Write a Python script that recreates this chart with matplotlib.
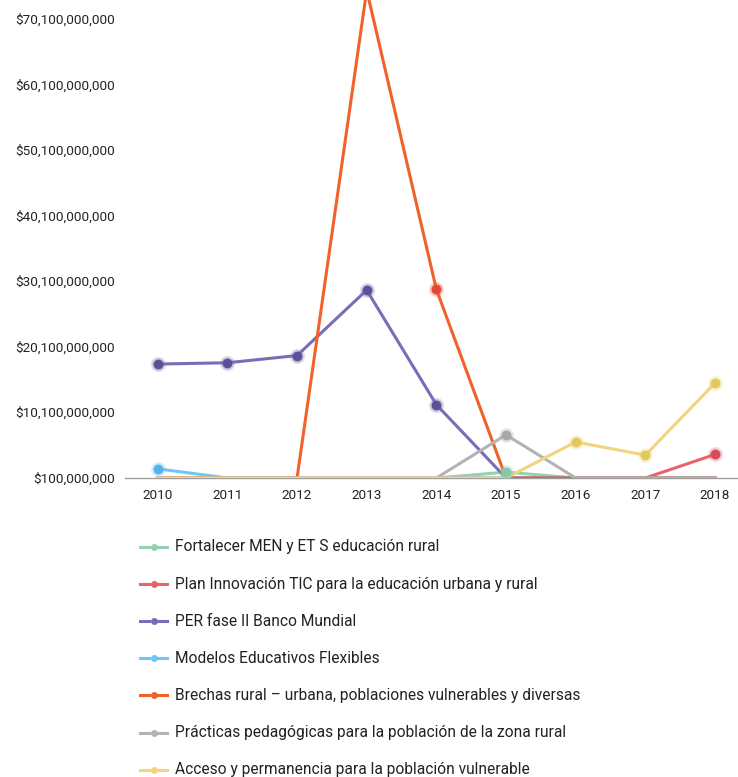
import numpy as np
import matplotlib.pyplot as plt
from matplotlib.lines import Line2D

plt.rcParams['font.family'] = ['Roboto', 'DejaVu Sans']

years = [2010, 2011, 2012, 2013, 2014, 2015, 2016, 2017, 2018]

labels = [
    'Fortalecer MEN y ET S educación rural',
    'Plan Innovación TIC para la educación urbana y rural',
    'PER fase II Banco Mundial',
    'Modelos Educativos Flexibles',
    'Brechas rural – urbana, poblaciones vulnerables y diversas',
    'Prácticas pedagógicas para la población de la zona rural',
    'Acceso y permanencia para la población vulnerable',
]

# amounts in pesos per year
fortalecer = [0, 0, 0, 0, 0, 0.9e9, 0, 0, 0]
plan_tic   = [0, 0, 0, 0, 0, 0, 0, 0, 3.6e9]
per_fase2  = [17.4e9, 17.6e9, 18.7e9, 28.7e9, 11.2e9, 0, 0, 0, 0]
modelos    = [1.4e9, 0, 0, 0, 0, 0, 0, 0, 0]
brechas    = [0, 0, 0, 74.5e9, 28.8e9, 0, 0, 0, 0]
practicas  = [0, 0, 0, 0, 0, 6.6e9, 0, 0, 0]
acceso     = [0, 0, 0, 0, 0, 0, 5.5e9, 3.5e9, 14.5e9]

series = [fortalecer, plan_tic, per_fase2, modelos, brechas, practicas, acceso]
line_colors = ['#93d1b5', '#e8646a', '#7b6cb8', '#6ec6f7', '#f0622a', '#b3b3b3', '#f3d37d']
dot_colors = ['#86c9a8', '#d94a5c', '#5c5196', '#56b0f0', '#e0483a', '#a8a8a8', '#e3c85e']

yticks = [100e6 + 10e9 * k for k in range(8)]

fig = plt.figure(figsize=(7.38, 7.77), dpi=100)
ax = fig.add_axes([125 / 738, 299 / 777, 613 / 738, 478 / 777])

for vals, lc, dc in zip(series, line_colors, dot_colors):
    vals = np.array(vals)
    nz = vals > 0
    ax.plot(years, vals, color=lc, lw=2.2, solid_joinstyle='round', zorder=2)
    xs = np.array(years)[nz]
    # soft glow round each point
    ax.plot(xs, vals[nz], 'o', ms=11, color=lc, alpha=0.2, mew=0, zorder=3)
    ax.plot(xs, vals[nz], 'o', ms=9, color=lc, alpha=0.3, mew=0, zorder=3)
    ax.plot(xs, vals[nz], 'o', ms=7, color=dc, mew=0, zorder=4)

ax.set_xlim(2009.53, 2018.33)
ax.set_ylim(0, 73.0e9)
ax.set_xticks(years)
ax.set_yticks(yticks)
ax.set_yticklabels(['${:,.0f}'.format(v) for v in yticks])
ax.tick_params(length=0, labelsize=9.7, colors='#222222')
ax.tick_params(axis='x', pad=8)
ax.tick_params(axis='y', pad=7)
for s in ['top', 'right', 'left']:
    ax.spines[s].set_visible(False)
ax.spines['bottom'].set_color('#9e9e9e')
ax.spines['bottom'].set_linewidth(1.0)
ax.spines['bottom'].set_zorder(1)

# legend below the chart, drawn by hand
W, H = 738, 777
for i, (lab, lc, dc) in enumerate(zip(labels, line_colors, dot_colors)):
    y = 1 - (547 + 37.1 * i) / H
    fig.add_artist(Line2D([140 / W, 149 / W], [y, y], color=lc, lw=2.2))
    fig.add_artist(Line2D([158 / W, 167 / W], [y, y], color=lc, lw=2.2))
    fig.add_artist(Line2D([153.5 / W], [y], marker='o', ms=5, color=lc, mew=0))
    fig.text(175 / W, y, lab, fontsize=11.2, color='#222222', va='center', ha='left')

fig.savefig('out.png', dpi=100)
